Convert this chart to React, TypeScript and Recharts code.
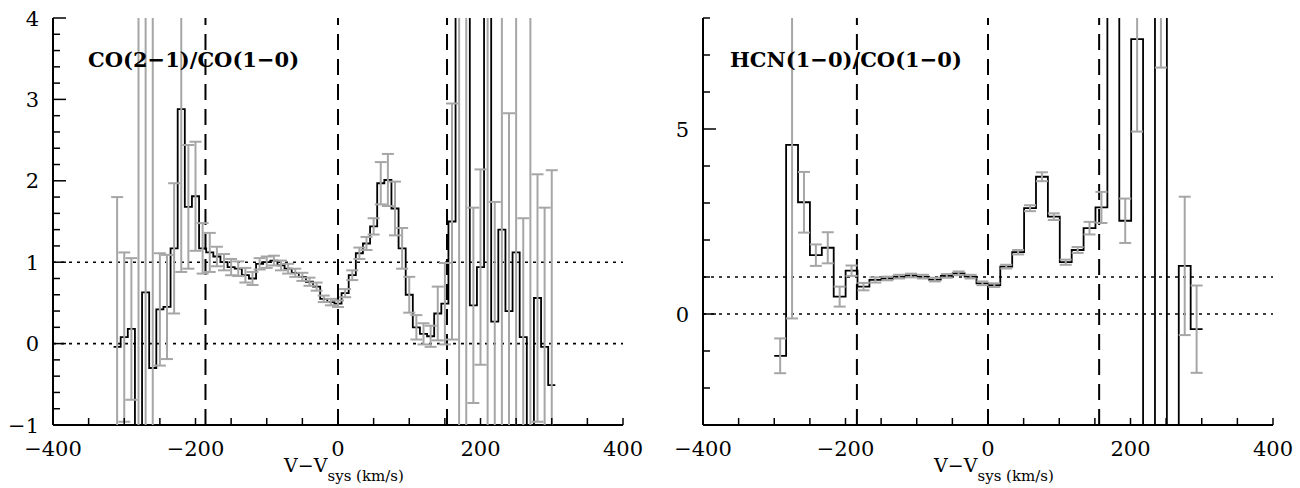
import React from 'react';
import {ComposedChart, Line, Scatter, ErrorBar, XAxis, YAxis, ReferenceLine} from 'recharts';

// CO(2-1)/CO(1-0): channel centres (km/s), ratio, 1-sigma error
const coVel = [
	-310, -300, -290, -280, -270, -260, -250, -240, -230, -220, -210, -200, -190, -180, -170, -160,
	-150, -140, -130, -120, -110, -100, -90, -80, -70, -60, -50, -40, -30, -20, -10, 0,
	10, 20, 30, 40, 50, 60, 70, 80, 90, 100, 110, 120, 130, 140, 150, 160,
	170, 180, 190, 200, 210, 220, 230, 240, 250, 260, 270, 280, 290, 300,
];
const coRatio = [
	-0.04, 0.08, 0.18, -2.5, 0.63, -0.30, 0.42, 0.45, 1.17, 2.88, 1.68, 1.81, 1.17, 1.12, 1.07, 1.00,
	0.94, 0.92, 0.84, 0.80, 0.98, 1.00, 1.02, 0.96, 0.92, 0.87, 0.82, 0.76, 0.70, 0.55, 0.51, 0.49,
	0.62, 0.84, 1.11, 1.23, 1.44, 1.97, 2.01, 1.66, 1.17, 0.60, 0.20, 0.12, 0.09, 0.37, 0.49, 1.50,
	5.5, 5.0, 0.47, 0.94, 5.0, 0.27, 1.40, 0.40, 1.12, 0.08, -2.5, 0.56, -0.04, -0.51,
];
const coErr = [
	1.84, 1.04, 0.87, 7, 4, 4.5, 0.69, 0.64, 0.80, 2.0, 0.76, 0.67, 0.31, 0.24, 0.12, 0.10,
	0.10, 0.09, 0.09, 0.08, 0.07, 0.07, 0.06, 0.06, 0.06, 0.05, 0.05, 0.05, 0.05, 0.04, 0.04, 0.04,
	0.05, 0.06, 0.07, 0.08, 0.10, 0.26, 0.32, 0.33, 0.25, 0.22, 0.15, 0.13, 0.13, 0.33, 0.50, 1.45,
	8, 8, 1.20, 1.20, 8, 1.47, 4, 2.43, 4, 1.46, 8, 1.52, 1.71, 2.64,
];

// HCN(1-0)/CO(1-0)
const hcnVel = [
	-291.7, -275.0, -258.3, -241.6, -224.9, -208.2, -191.5, -174.8, -158.1, -141.4, -124.7, -108.0,
	-91.3, -74.6, -57.9, -41.2, -24.5, -7.8, 8.9, 25.6, 42.3, 59.0, 75.7, 92.4,
	109.1, 125.8, 142.5, 159.2, 175.9, 192.6, 209.3, 226.0, 242.7, 259.4, 276.1, 292.8,
];
const hcnRatio = [
	-1.13, 4.57, 3.02, 1.59, 1.79, 0.47, 1.17, 0.74, 0.92, 0.96, 1.01, 1.04,
	1.01, 0.93, 1.03, 1.10, 1.01, 0.83, 0.78, 1.28, 1.67, 2.86, 3.71, 2.63,
	1.40, 1.73, 2.32, 2.88, 12, 2.52, 7.43, -6, 11, -6, 1.30, -0.41,
];
const hcnErr = [
	0.47, 4.69, 0.82, 0.29, 0.42, 0.27, 0.14, 0.10, 0.07, 0.05, 0.05, 0.05,
	0.05, 0.05, 0.05, 0.05, 0.05, 0.05, 0.05, 0.05, 0.06, 0.08, 0.12, 0.09,
	0.07, 0.08, 0.17, 0.42, 2, 0.60, 2.5, 1, 4.34, 1, 1.87, 1.18,
];

const xTicks = [-400, -350, -300, -250, -200, -150, -100, -50, 0, 50, 100, 150, 200, 250, 300, 350, 400];
const xLabels = [-400, -200, 0, 200, 400];
const coYTicks = [
	-1, -0.8, -0.6, -0.4, -0.2, 0, 0.2, 0.4, 0.6, 0.8, 1, 1.2, 1.4, 1.6, 1.8, 2,
	2.2, 2.4, 2.6, 2.8, 3, 3.2, 3.4, 3.6, 3.8, 4,
];
const coYLabels = [-1, 0, 1, 2, 3, 4];
const hcnYTicks = [-3, -2, -1, 0, 1, 2, 3, 4, 5, 6, 7, 8];
const hcnYLabels = [0, 5];
const coMarks = [-186, 0, 153];
const hcnMarks = [-184, 0, 156];

const GRAY = '#a6a6a6';
const frame = {stroke: '#000', strokeWidth: 2};
const tickFont = {fontFamily: '"DejaVu Serif", serif', fontSize: 21, fill: '#000'};

const fmt = (v: number) => (v < 0 ? '\u2212' + Math.abs(v) : String(v));
const isIn = (v: number, list: number[]) => list.some((t) => Math.abs(t - v) < 1e-6);
const noDot = () => <g/>;

const bottomTick = (p: any) => {
	const v = p.payload.value;
	return <g>
		<line x1={p.x} y1={p.y} x2={p.x} y2={p.y - 7} stroke="#000" strokeWidth={1.5}/>
		{isIn(v, xLabels) && <text x={p.x} y={p.y + 31} textAnchor="middle" {...tickFont}>{fmt(v)}</text>}
	</g>;
};
const topTick = (p: any) => <line x1={p.x} y1={p.y} x2={p.x} y2={p.y + 7} stroke="#000" strokeWidth={1.5}/>;

const leftTick = (labels: number[], major: number[]) => (p: any) => {
	const v = p.payload.value;
	const len = isIn(v, major) ? 13 : 7;
	return <g>
		<line x1={p.x} y1={p.y} x2={p.x + len} y2={p.y} stroke="#000" strokeWidth={1.5}/>
		{isIn(v, labels) && <text x={p.x - 14} y={p.y} dy="0.36em" textAnchor="end" {...tickFont}>{fmt(v)}</text>}
	</g>;
};
const rightTick = (major: number[]) => (p: any) => {
	const len = isIn(p.payload.value, major) ? 13 : 7;
	return <line x1={p.x} y1={p.y} x2={p.x - len} y2={p.y} stroke="#000" strokeWidth={1.5}/>;
};

interface PanelProps {
	vel: number[];
	ratio: number[];
	err: number[];
	yDomain: [number, number];
	yTicks: number[];
	yLabels: number[];
	yMajor: number[];
	marks: number[];
}

function Panel({vel, ratio, err, yDomain, yTicks, yLabels, yMajor, marks}: PanelProps) {
	const half = (vel[1] - vel[0]) / 2;
	const last = vel.length - 1;
	// histogram: pad half a channel on each side so 'step' draws full bins
	const stepData = [
		{x: vel[0] - half, y: ratio[0]},
		...vel.map((x, i) => ({x, y: ratio[i]})),
		{x: vel[last] + half, y: ratio[last]},
	];
	const errData = vel.map((x, i) => ({x, y: ratio[i], e: err[i]}));

	return <ComposedChart width={650} height={488} margin={{top: 18, right: 27, bottom: 0, left: 8}}>
		<XAxis xAxisId="b" dataKey="x" type="number" domain={[-400, 400]} allowDataOverflow ticks={xTicks}
			   interval={0} tickSize={0} tickMargin={0} height={63} axisLine={frame} tickLine={false} tick={bottomTick}/>
		<XAxis xAxisId="t" orientation="top" dataKey="x" type="number" domain={[-400, 400]} allowDataOverflow
			   ticks={xTicks} interval={0} tickSize={0} tickMargin={0} height={0} axisLine={frame} tickLine={false}
			   tick={topTick}/>
		<YAxis yAxisId="l" type="number" domain={yDomain} allowDataOverflow ticks={yTicks} interval={0}
			   tickSize={0} tickMargin={0} width={45} axisLine={frame} tickLine={false}
			   tick={leftTick(yLabels, yMajor)}/>
		<YAxis yAxisId="r" orientation="right" type="number" domain={yDomain} allowDataOverflow ticks={yTicks}
			   interval={0} tickSize={0} tickMargin={0} width={0} axisLine={frame} tickLine={false}
			   tick={rightTick(yMajor)}/>
		<ReferenceLine xAxisId="b" yAxisId="l" y={0} stroke="#000" strokeWidth={1.6} strokeDasharray="3 5"/>
		<ReferenceLine xAxisId="b" yAxisId="l" y={1} stroke="#000" strokeWidth={1.6} strokeDasharray="3 5"/>
		{marks.map((m) => <ReferenceLine key={m} xAxisId="b" yAxisId="l" x={m} stroke="#000" strokeWidth={2}
										  strokeDasharray="16 9"/>)}
		<Line xAxisId="b" yAxisId="l" data={stepData} dataKey="y" type="step" stroke="#000" strokeWidth={1.8}
			  dot={false} isAnimationActive={false}/>
		<Scatter xAxisId="b" yAxisId="l" data={errData} dataKey="y" shape={noDot} isAnimationActive={false}>
			<ErrorBar dataKey="e" direction="y" width={6} stroke={GRAY} strokeWidth={2} zIndex={0}
					  isAnimationActive={false}/>
		</Scatter>
	</ComposedChart>;
}

const titleStyle: React.CSSProperties = {
	position: 'absolute', fontFamily: '"DejaVu Serif", serif', fontWeight: 'bold', fontSize: 21,
	lineHeight: 1, whiteSpace: 'nowrap',
};
const xLabelStyle: React.CSSProperties = {
	position: 'absolute', top: 454, width: 200, textAlign: 'center',
	fontFamily: '"DejaVu Serif", serif', whiteSpace: 'nowrap',
};

function XLabel({center}: { center: number }) {
	return <div style={{...xLabelStyle, left: center - 100}}>
		<span style={{fontSize: 19}}>V{'\u2212'}V</span>
		<span style={{fontSize: 15, position: 'relative', top: 9}}>sys (km/s)</span>
	</div>;
}

export default function App() {
	return <div style={{position: 'absolute', left: 0, top: 0, width: 1300, height: 488, background: '#fff', overflow: 'hidden'}}>
		<div style={{position: 'absolute', left: 0, top: 0}}>
			<Panel vel={coVel} ratio={coRatio} err={coErr} yDomain={[-1, 4]} yTicks={coYTicks}
				   yLabels={coYLabels} yMajor={coYLabels} marks={coMarks}/>
		</div>
		<div style={{position: 'absolute', left: 650, top: 0}}>
			<Panel vel={hcnVel} ratio={hcnRatio} err={hcnErr} yDomain={[-3, 8]} yTicks={hcnYTicks}
				   yLabels={hcnYLabels} yMajor={hcnYLabels} marks={hcnMarks}/>
		</div>
		<div style={{...titleStyle, left: 88, top: 49}}>CO(2{'\u2212'}1)/CO(1{'\u2212'}0)</div>
		<div style={{...titleStyle, left: 730, top: 49}}>HCN(1{'\u2212'}0)/CO(1{'\u2212'}0)</div>
		<XLabel center={344}/>
		<XLabel center={994}/>
	</div>;
}
